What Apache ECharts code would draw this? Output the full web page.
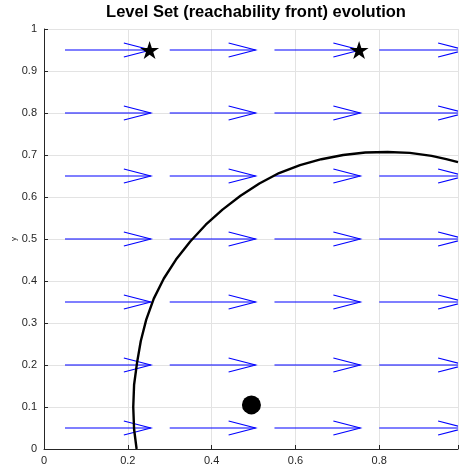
<!DOCTYPE html>
<html><head><meta charset="utf-8">
<script src="https://cdn.jsdelivr.net/npm/echarts@6/dist/echarts.min.js"></script>
<style>html,body{margin:0;padding:0;background:#fff}#c{width:461px;height:467px}</style>
</head><body><div id="c"></div>
<script>
// Quiver arrows (start x, row y, length u)
var arrowX = [0.05, 0.30, 0.55, 0.80];
var arrowY = [0.05, 0.20, 0.35, 0.50, 0.65, 0.80, 0.95];
var arrowU = [0.205, 0.205, 0.205, 0.205];
// Level set front
var frontX = [0.221,0.215,0.213,0.215,0.222,0.231,0.244,0.262,0.286,0.315,0.349,0.386,0.426,0.469,0.514,0.561,0.611,0.662,0.714,0.767,0.820,0.873,0.925,0.960,0.988];
var frontY = [0.000,0.047,0.100,0.153,0.205,0.257,0.308,0.358,0.406,0.451,0.494,0.534,0.570,0.603,0.632,0.657,0.676,0.690,0.700,0.706,0.707,0.705,0.698,0.690,0.683];
// Targets (stars) and agent (dot)
var starX = [0.252, 0.752];
var starY = [0.95, 0.95];
var dotX = [0.495];
var dotY = [0.105];
var xTicks = [0, 0.2, 0.4, 0.6, 0.8];
var yTicks = [0, 0.1, 0.2, 0.3, 0.4, 0.5, 0.6, 0.7, 0.8, 0.9, 1];

var arrows = [];
arrowY.forEach(function (y) {
  arrowX.forEach(function (x, i) { arrows.push([x, y, x + arrowU[i]]); });
});
var front = frontX.map(function (x, i) { return [x, frontY[i]]; });
var stars = starX.map(function (x, i) { return [x, starY[i]]; });
var dots = dotX.map(function (x, i) { return [x, dotY[i]]; });

var star = 'path://M0,-10 L2.245,-3.09 L9.511,-3.09 L3.633,1.18 L5.878,8.09 L0,3.82 L-5.878,8.09 L-3.633,1.18 L-9.511,-3.09 L-2.245,-3.09 Z';
var txt = '#262626';
var chart = echarts.init(document.getElementById('c'), null, {renderer: 'canvas'});
chart.setOption({
  animation: false,
  grid: {left: 44, top: 29, right: 0, bottom: 18, containLabel: false},
  graphic: [
    {type: 'text', x: 256, y: 4, style: {text: 'Level Set (reachability front) evolution', font: 'bold 16.5px "Liberation Sans", Arial, sans-serif', fill: '#000', align: 'center', verticalAlign: 'top'}},
    {type: 'text', x: 14, y: 239, rotation: Math.PI / 2, style: {text: 'y', font: '8px "Liberation Sans", Arial, sans-serif', fill: txt, align: 'center', verticalAlign: 'middle'}}
  ],
  xAxis: {
    type: 'value', min: 0, max: 0.988, interval: 0.2,
    axisLine: {show: true, lineStyle: {color: txt, width: 1}},
    axisTick: {show: true, inside: true, length: 4, lineStyle: {color: txt}},
    axisLabel: {color: txt, fontSize: 11, fontFamily: 'Liberation Sans, Arial, sans-serif', margin: 6,
      formatter: function (v) { var r = Math.round(v * 10) / 10; return xTicks.indexOf(r) >= 0 ? String(r) : ''; }},
    splitLine: {show: true, lineStyle: {color: '#e3e3e3', width: 1}}
  },
  yAxis: {
    type: 'value', min: 0, max: 1, interval: 0.1,
    axisLine: {show: true, lineStyle: {color: txt, width: 1}},
    axisTick: {show: true, inside: true, length: 4, lineStyle: {color: txt}},
    axisLabel: {color: txt, fontSize: 11, fontFamily: 'Liberation Sans, Arial, sans-serif', margin: 7,
      formatter: function (v) { var r = Math.round(v * 10) / 10; return yTicks.indexOf(r) >= 0 ? String(r) : ''; }},
    splitLine: {show: true, lineStyle: {color: '#e3e3e3', width: 1}}
  },
  series: [
    {
      type: 'custom', data: arrows, z: 2,
      renderItem: function (params, api) {
        var s = api.coord([api.value(0), api.value(1)]);
        var e = api.coord([api.value(2), api.value(1)]);
        var cs = params.coordSys;
        return {
          type: 'group',
          clipPath: {type: 'rect', shape: {x: cs.x, y: cs.y - 10, width: cs.width, height: cs.height + 20}},
          children: [
            {type: 'line', shape: {x1: s[0], y1: s[1], x2: e[0], y2: e[1]}, style: {stroke: '#0000ff', lineWidth: 1.1}},
            {type: 'polyline', shape: {points: [[e[0] - 27, e[1] - 7], [e[0], e[1]], [e[0] - 27, e[1] + 7]]}, style: {stroke: '#0000ff', lineWidth: 1.1, fill: null}}
          ]
        };
      }
    },
    {type: 'line', data: front, smooth: false, symbol: 'none', z: 3, lineStyle: {color: '#000', width: 2.4, join: 'round'}},
    {type: 'scatter', data: stars, symbol: star, symbolSize: [19, 18], z: 4, itemStyle: {color: '#000', opacity: 1}},
    {type: 'scatter', data: dots, symbol: 'circle', symbolSize: 19, z: 4, itemStyle: {color: '#000', opacity: 1}}
  ]
});
</script></body></html>
